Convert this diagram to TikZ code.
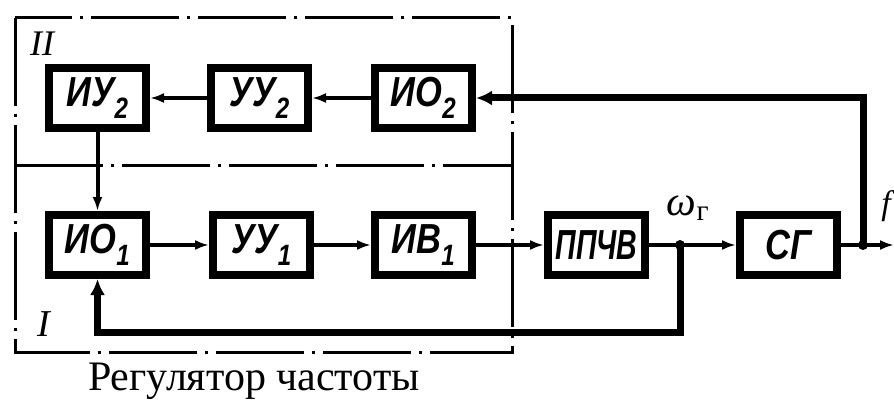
\documentclass[tikz,border=0pt]{standalone}
\usepackage{fontspec}
\setmainfont{Liberation Serif}
\newfontfamily\blkfont[FakeStretch=0.82]{Liberation Sans}
\newfontfamily\blknarrow[FakeStretch=0.68]{Liberation Sans}
\usetikzlibrary{arrows.meta, positioning}
\tikzset{
  blk/.style={rectangle, draw=black, line width=8pt, fill=white,
              minimum width=97pt, minimum height=60pt, inner sep=0pt,
              font=\blkfont\fontsize{42}{42}\selectfont\bfseries\itshape},
  arr/.style={-{Latex[length=14pt,width=10pt]}, line width=4pt},
  sig/.style={line width=4pt},
  fb/.style={line width=7pt},
  fbarr/.style={-{Latex[length=16pt,width=15pt]}},
  frame/.style={line width=3pt, dash pattern=on 88pt off 8pt on 3pt off 8pt},
  dot/.style={circle, fill=black, inner sep=0pt, minimum size=10pt},
  lbl/.style={inner sep=0pt},
}
\begin{document}
\begin{tikzpicture}[x=1pt, y=-1pt, node distance=59pt]
  \useasboundingbox (0,0) rectangle (894,401);

  % regulator frame, contours I and II
  \draw[frame] (15,18) rectangle (512,352);
  \draw[frame] (15,165) -- (512,165);

  % contour II
  \node[blk] (iu2) at (97.5,98) {ИУ\textsubscript{2}};
  \node[blk, right=57pt of iu2] (uu2) {УУ\textsubscript{2}};
  \node[blk, right=59pt of uu2] (io2) {ИО\textsubscript{2}};

  % contour I
  \node[blk] (io1) at (97.5,245) {ИО\textsubscript{1}};
  \node[blk, right=59pt of io1] (uu1) {УУ\textsubscript{1}};
  \node[blk, right=57pt of uu1] (iv1) {ИВ\textsubscript{1}};

  % plant
  \node[blk, right=68pt of iv1, font=\blknarrow\fontsize{42}{42}\selectfont\bfseries\itshape] (ppchv) {ППЧВ};
  \node[blk, right=87pt of ppchv] (sg) {СГ};

  \coordinate (jw) at (680,245);
  \coordinate (jf) at (863,245);
  \coordinate (jb) at (680,332);
  \coordinate (out) at (894,245);

  \draw[arr] (io2) -- (uu2);
  \draw[arr] (uu2) -- (iu2);
  \draw[arr] (iu2) -- (io1);
  \draw[arr] (io1) -- (uu1);
  \draw[arr] (uu1) -- (iv1);
  \draw[arr] (iv1) -- (ppchv);
  \draw[sig] (ppchv) -- (jw);
  \draw[arr] (jw) -- (sg);
  \draw[sig] (sg) -- (jf);
  \draw[arr] (jf) -- (out);

  % feedback lines
  \draw[fb, fbarr] (jf) |- (io2);
  \draw[fb, fbarr] (jw) -- (jb) -| (io1);

  \node[dot] (djw) at (jw) {};
  \node[dot] (djf) at (jf) {};

  % labels
  \node[lbl] (lII) at (42,44) {\fontsize{36}{36}\selectfont\itshape II};
  \node[lbl] (lI) at (44,324) {\fontsize{38}{38}\selectfont\itshape I};
  \node[lbl] (lw) at (688,208) {\fontsize{42}{42}\selectfont\itshape ω\textsubscript{\upshape г}};
  \node[lbl] (lf) at (886,206) {\fontsize{34}{34}\selectfont\itshape f};
  \node[lbl] (cap) at (254,381) {\fontsize{42}{42}\selectfont Регулятор частоты};
\end{tikzpicture}
\end{document}
